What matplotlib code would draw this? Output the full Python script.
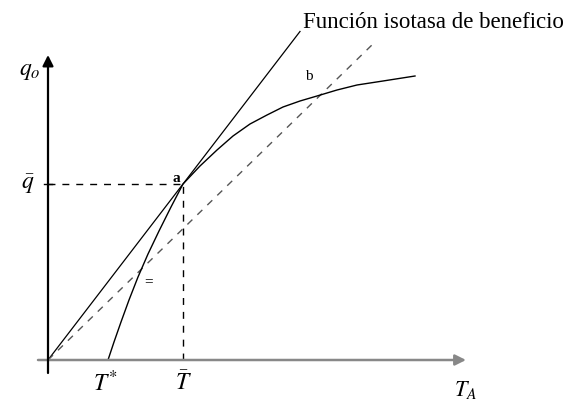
import matplotlib.pyplot as plt

# coordinates in chart units, origin where the axes cross
T_bar = 135
q_bar = 176
T_star = 60

iso_x = [0, 252]
iso_y = [0, 252 * q_bar / T_bar]

dash_x = [0, 327]
dash_y = [0, 318]

curve_x = [60, 66, 73, 81, 90, 100, 111, 123, 135, 152, 169, 185, 202,
           219, 235, 252, 269, 289, 309, 335, 367]
curve_y = [0, 18, 38, 60, 83, 106, 129, 153, 176, 194, 210, 224, 236,
           245, 253, 259, 264, 270, 275, 279, 284]

fig = plt.figure(figsize=(5.71, 4.03), dpi=100)
ax = fig.add_axes([0, 0, 1, 1])
ax.set_xlim(-48, 523)
ax.set_ylim(-43, 360)
ax.axis('off')

serif = ['Liberation Serif', 'DejaVu Serif']
plt.rcParams['mathtext.fontset'] = 'stix'

# axes with arrow heads
ax.annotate('', xy=(418, 0), xytext=(-10, 0),
            arrowprops=dict(arrowstyle='-|>', color='#888888', lw=1.8,
                            mutation_scale=16, shrinkA=0, shrinkB=0))
ax.annotate('', xy=(0, 305), xytext=(0, -13),
            arrowprops=dict(arrowstyle='-|>', color='black', lw=1.6,
                            mutation_scale=16, shrinkA=0, shrinkB=0))

# guide lines
ax.plot([0, T_bar], [q_bar, q_bar], color='black', lw=1, ls=(0, (5, 5)))
ax.plot([T_bar, T_bar], [0, q_bar], color='black', lw=1, ls=(0, (5, 5)))
ax.plot([-4, 4], [q_bar, q_bar], color='black', lw=1)

ax.plot(iso_x, iso_y, color='black', lw=0.9)
ax.plot(dash_x, dash_y, color='#555555', lw=1, ls=(0, (5, 5)))
ax.plot(curve_x, curve_y, color='black', lw=1)

ax.text(255, 337, 'Función isotasa de beneficio', family=serif,
        fontsize=16.5, va='center', ha='left')

ax.text(-18, 290, r'$q_o$', fontsize=17, ha='center', va='center')
ax.text(-20, q_bar, r'$\bar{q}$', fontsize=17, ha='center', va='center')
ax.text(T_star - 3, -23, r'$T^{*}$', fontsize=17, ha='center', va='center')
ax.text(T_bar, -23, r'$\bar{T}$', fontsize=17, ha='center', va='center')
ax.text(418, -30, r'$T_A$', fontsize=16, ha='center', va='center')
ax.text(128, 182, 'a', family=serif, fontsize=11, ha='center', va='center',
        fontweight='bold')
ax.text(261, 283, 'b', family=serif, fontsize=11, ha='center', va='center')
ax.text(101, 78, '=', family=serif, fontsize=11, ha='center', va='center')

fig.savefig('out.png', dpi=100)
